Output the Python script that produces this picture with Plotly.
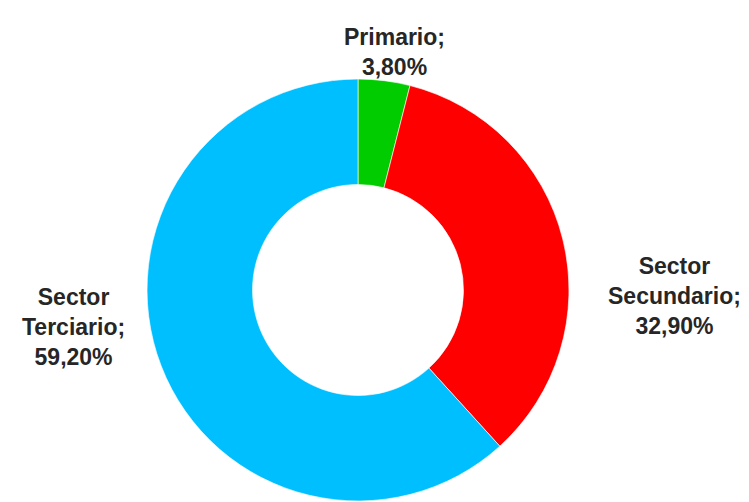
import plotly.graph_objects as go

categories = ["Primario", "Sector Secundario", "Sector Terciario"]
values = [3.80, 32.90, 59.20]
label_lines = [["Primario;", "3,80%"], ["Sector", "Secundario;", "32,90%"], ["Sector", "Terciario;", "59,20%"]]
colors = ["#00CC00", "#FF0000", "#00BFFF"]

fig = go.Figure(go.Pie(
    labels=categories,
    values=values,
    hole=0.5,
    sort=False,
    direction="clockwise",
    rotation=0,
    marker=dict(colors=colors, line=dict(color="rgba(255,255,255,0.6)", width=1)),
    textinfo="none",
    hoverinfo="label+percent",
    showlegend=False,
    domain=dict(x=[0.1856, 0.7490], y=[0.018, 0.8585]),
))

# label anchor positions (paper coords) for each category
label_pos = [(386 / 749, 1 - 44 / 502), (666 / 749, 1 - 288 / 502), (65 / 749, 1 - 319 / 502)]
for lines, (px, py) in zip(label_lines, label_pos):
    fig.add_annotation(
        x=px, y=py, xref="paper", yref="paper",
        text="<br>".join(lines), showarrow=False,
        xanchor="center", yanchor="middle", align="center",
        font=dict(family="Liberation Sans, Arial, sans-serif", size=23, color="#262626", weight="bold"),
    )

fig.update_layout(
    width=749, height=502,
    margin=dict(l=0, r=0, t=0, b=0),
    paper_bgcolor="white", plot_bgcolor="white",
)
fig.write_html("out.html")
